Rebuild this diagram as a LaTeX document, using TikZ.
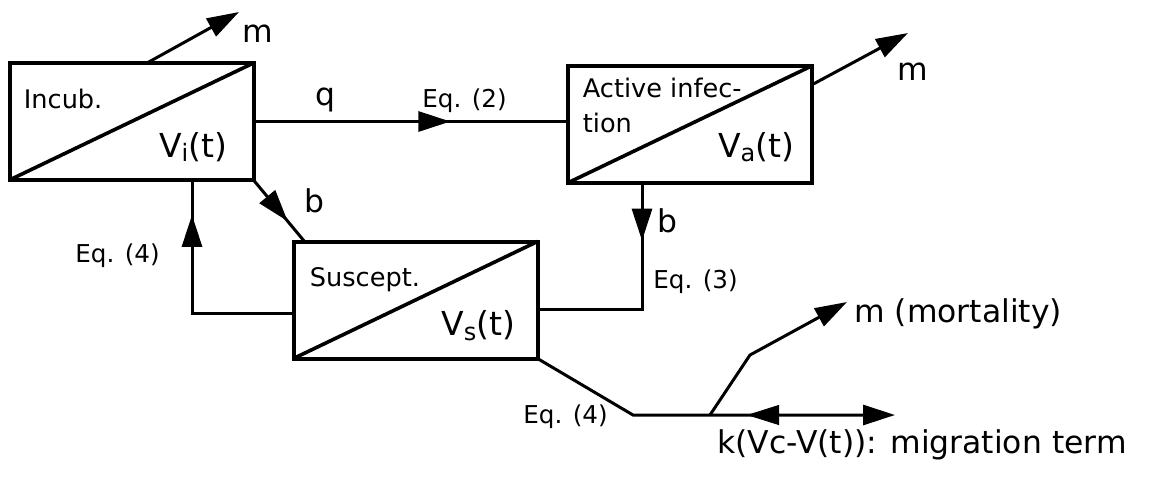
\documentclass[tikz,border=0pt]{standalone}
\usepackage{fontspec}
\setmainfont{DejaVu Sans}
\usetikzlibrary{
    arrows.meta,
    calc,
    decorations.markings
}

\tikzset{
    box/.style={draw, line width=2pt, minimum width=122pt, minimum height=58.5pt,
        inner sep=0pt, outer sep=0pt},
    diag/.style={line width=1.8pt},
    flow/.style={line width=1.5pt},
    tip/.style={-{Triangle[length=16pt,width=10pt]}},
    midtip/.style={postaction={decorate}, decoration={markings,
        mark=at position #1 with {\arrow{Triangle[length=16pt,width=10pt]}}}},
    boxtext/.style={inner sep=0pt, font=\fontsize{12.8}{17.5}\selectfont},
    vartext/.style={inner sep=0pt, anchor=base east, font=\fontsize{16.5}{18}\selectfont},
    eqlabel/.style={inner sep=0pt, anchor=base west, font=\fontsize{12.3}{14}\selectfont},
    biglabel/.style={inner sep=0pt, anchor=base west, font=\fontsize{15.7}{18}\selectfont}
}
\newcommand{\subidx}[1]{\raisebox{-0.25ex}{\fontsize{12}{12}\selectfont #1}}

\begin{document}
\begin{tikzpicture}[x=0.5pt, y=-0.5pt]

\useasboundingbox (0,0) rectangle (1153,479);

% Compartments
\node[box] (incub) at (131.5,121.5) {};
\node[box] (active) at (689.5,124.5) {};
\node[box] (suscept) at (415.5,300) {};

% Diagonals
\draw[diag] (incub.south west) -- (incub.north east);
\draw[diag] (active.south west) -- (active.north east);
\draw[diag] (suscept.south west) -- (suscept.north east);

% Box texts
\node[boxtext, anchor=base west] (incubname) at ([shift={(7pt,-22.5pt)}]incub.north west) {Incub.};
\node[vartext] (incubvar) at ([shift={(-13pt,11.5pt)}]incub.south east) {V\subidx{i}(t)};
\node[boxtext, anchor=north west, align=left] (activename) at ([shift={(7.5pt,-5.6pt)}]active.north west) {Active infec-\\tion};
\node[vartext] (activevar) at ([shift={(-8.5pt,13pt)}]active.south east) {V\subidx{a}(t)};
\node[boxtext, anchor=base west] (susceptname) at ([shift={(8pt,-22.5pt)}]suscept.north west) {Suscept.};
\node[vartext] (susceptvar) at ([shift={(-11pt,11.5pt)}]suscept.south east) {V\subidx{s}(t)};

% Free ends
\coordinate (mincub) at (239,12);
\coordinate (mactive) at (908,33);
\coordinate (bend) at (633,415);
\coordinate (fork) at (710,415);
\coordinate (kink) at (750,355);
\coordinate (mortip) at (847,302);
\coordinate (migtip) at (895,415);

% Mortality out of incub and active
\draw[flow,tip] ([xshift=7.75pt]incub.north) -- (mincub);
\draw[flow,tip] ([yshift=19.75pt]active.east) -- (mactive);

% q flow
\draw[flow, midtip=0.627] (incub.east) -- (incub.east -| active.west);

% b flows
\draw[flow, midtip=0.67] (incub.south east) -- ([xshift=5.5pt]suscept.north west);
\draw[flow, midtip=0.25] ([xshift=-23.75pt]active.south) |- ([yshift=-4.5pt]suscept.east);

% Back to incub
\draw[flow, midtip=0.851] ([yshift=-6.5pt]suscept.west) -| ([xshift=30.25pt]incub.south);

% Mortality and migration
\draw[flow,tip] (suscept.south east) -- (bend) -- (migtip);
\draw[flow,tip] (fork) -- (kink) -- (mortip);
\path[postaction={decorate}, decoration={markings,
    mark=at position 18.5pt with {\arrowreversed{Triangle[length=16pt,width=10pt]}}}]
    (fork) -- (migtip);

% Labels
\node[biglabel] (mincublab) at (242,42) {m};
\node[biglabel] (mactivelab) at (897,80) {m};
\node[biglabel] (qlab) at (315,105) {q};
\node[eqlabel] (eqtwo) at (422,107) {Eq. (2)};
\node[biglabel] (bleft) at (304,212) {b};
\node[biglabel] (bright) at (657,232) {b};
\node[eqlabel] (eqthree) at (653,288) {Eq. (3)};
\node[eqlabel] (eqfourtop) at (75,262) {Eq. (4)};
\node[eqlabel] (eqfourbot) at (523,423) {Eq. (4)};
\node[biglabel] (mortlab) at (854,322) {m (mortality)};
\node[biglabel] (miglab) at (717,453) {k(Vc-V(t)): migration term};

\end{tikzpicture}
\end{document}
